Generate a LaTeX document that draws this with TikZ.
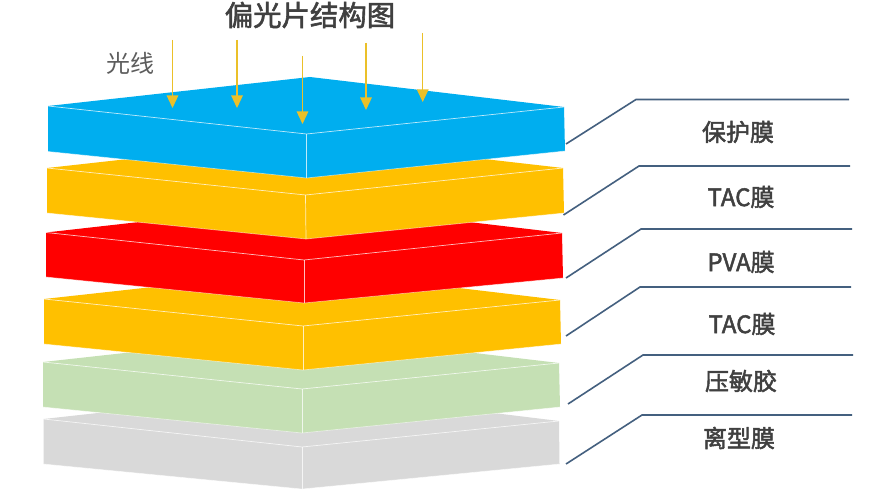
\documentclass[tikz,border=0pt]{standalone}
\usepackage{fontspec}
\setmainfont{Noto Sans CJK SC}
\newfontfamily\cjkm[FakeBold=2]{Noto Sans CJK SC}
\usetikzlibrary{arrows.meta}
\definecolor{cblue}{HTML}{00AEEF}
\definecolor{cgold}{HTML}{FFC000}
\definecolor{cred}{HTML}{FF0000}
\definecolor{cgreen}{HTML}{C5E0B4}
\definecolor{cgray}{HTML}{D9D9D9}
\definecolor{cray}{HTML}{EBC029}
\definecolor{clead}{HTML}{44607F}
\definecolor{ctext}{HTML}{404040}
\tikzset{
  slabedge/.style={draw=white,opacity=0.75,line width=0.7pt},
  ray/.style={draw=cray,line width=1.3pt,-{Triangle[length=12.5pt,width=11.5pt]}},
  leader/.style={draw=clead,line width=1.6pt},
  lbl/.style={font=\cjkm\fontsize{24}{26}\selectfont,text=ctext,inner sep=0pt},
  ttl/.style={font=\cjkm\fontsize{28.4}{30}\selectfont,text=ctext,inner sep=0pt},
  lightlbl/.style={font=\fontsize{24}{26}\selectfont,text=ctext!85,inner sep=0pt}
}
\newcommand{\slabdraw}[8]{%
  \fill[#1] #2 -- #8 -- #6 -- #7 -- #5 -- #3 -- cycle;
  \draw[slabedge] #2 -- #4 -- #6;
  \draw[slabedge] #4 -- #5;
  \draw[slabedge,opacity=0.5] #3 -- #5 -- #7;
}
\begin{document}
\begin{tikzpicture}[x=1pt,y=-1pt]
\useasboundingbox (0,0) rectangle (880,502);
\fill[white] (0,0) rectangle (880,502);
% slabs, lowest first
\slabdraw{cgray}{(43.5,419)}{(43.5,464)}{(302,447)}{(302,489)}{(559,421)}{(559.5,464)}{(306,390)}
\slabdraw{cgreen}{(43,362)}{(43,407)}{(302,389)}{(302,433)}{(559,363)}{(560,407)}{(306,333)}
\slabdraw{cgold}{(44,299)}{(44,344)}{(303,326)}{(303,370)}{(560,300)}{(561,344)}{(307,270)}
\slabdraw{cred}{(46,232.5)}{(46,277)}{(304,260)}{(304,303)}{(562,233)}{(563,278)}{(308,203)}
\slabdraw{cgold}{(47,168)}{(47,213)}{(305.5,195)}{(306,239)}{(563,168)}{(564,213)}{(309,139)}
\slabdraw{cblue}{(48,106)}{(48,151.5)}{(306.5,134)}{(306.5,178)}{(564,107)}{(565,151)}{(310,77)}
% light rays
\coordinate (r1a) at (172.5,40);  \coordinate (r1b) at (172.5,108);
\coordinate (r2a) at (237,40);    \coordinate (r2b) at (237,108);
\coordinate (r3a) at (302.5,56);  \coordinate (r3b) at (302.5,124);
\coordinate (r4a) at (366,43);    \coordinate (r4b) at (366,110);
\coordinate (r5a) at (422.7,33);  \coordinate (r5b) at (422.7,102);
\foreach \i in {1,...,5} \draw[ray] (r\i a) -- (r\i b);
% leaders
\coordinate (l1a) at (566,144);   \coordinate (l1b) at (636,99.5);  \coordinate (l1c) at (849,99.5);
\coordinate (l2a) at (563.5,215); \coordinate (l2b) at (639,166);   \coordinate (l2c) at (850,166);
\coordinate (l3a) at (566,278);   \coordinate (l3b) at (641,229);   \coordinate (l3c) at (852,229);
\coordinate (l4a) at (566,336);   \coordinate (l4b) at (640,287);   \coordinate (l4c) at (851,287);
\coordinate (l5a) at (568,404);   \coordinate (l5b) at (643,355);   \coordinate (l5c) at (853,355);
\coordinate (l6a) at (566,464);   \coordinate (l6b) at (642,415);   \coordinate (l6c) at (852,415);
\foreach \i in {1,...,6} \draw[leader] (l\i a) -- (l\i b) -- (l\i c);
% texts
\node[ttl] (title) at (310,15) {偏光片结构图};
\node[lightlbl] (lightname) at (130,63) {光线};
\node[lbl] (t1) at (738,132) {保护膜};
\node[lbl] (t2) at (741,197) {TAC膜};
\node[lbl] (t3) at (741,262) {PVA膜};
\node[lbl] (t4) at (742,324) {TAC膜};
\node[lbl] (t5) at (741,381) {压敏胶};
\node[lbl] (t6) at (739,438) {离型膜};
\end{tikzpicture}
\end{document}
